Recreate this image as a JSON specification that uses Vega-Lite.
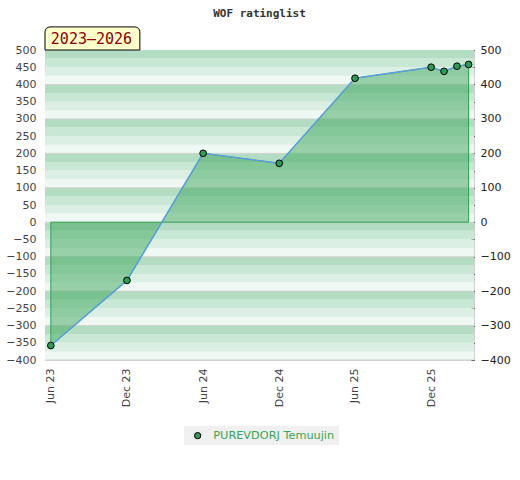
{
  "$schema": "https://vega.github.io/schema/vega-lite/v6.json",
  "autosize": "none",
  "width": 429,
  "height": 310,
  "padding": {"left": 45, "top": 50, "right": 46, "bottom": 120},
  "title": {
    "text": "WOF ratinglist",
    "font": "DejaVu Sans Mono",
    "fontSize": 11,
    "fontWeight": "bold",
    "color": "#333333",
    "anchor": "middle",
    "frame": "group",
    "offset": 7
  },
  "config": {
    "view": {"stroke": "#d0d0d0", "strokeWidth": 1},
    "axis": {"labelFont": "DejaVu Sans", "labelFontSize": 11, "labelColor": "#444444", "title": null}
  },
  "datasets": {
    "bands": [
      {"lo": -400, "hi": -375, "s": "a"}, {"lo": -375, "hi": -350, "s": "b"}, {"lo": -350, "hi": -325, "s": "c"}, {"lo": -325, "hi": -300, "s": "d"},
      {"lo": -300, "hi": -275, "s": "a"}, {"lo": -275, "hi": -250, "s": "b"}, {"lo": -250, "hi": -225, "s": "c"}, {"lo": -225, "hi": -200, "s": "d"},
      {"lo": -200, "hi": -175, "s": "a"}, {"lo": -175, "hi": -150, "s": "b"}, {"lo": -150, "hi": -125, "s": "c"}, {"lo": -125, "hi": -100, "s": "d"},
      {"lo": -100, "hi": -75, "s": "a"}, {"lo": -75, "hi": -50, "s": "b"}, {"lo": -50, "hi": -25, "s": "c"}, {"lo": -25, "hi": 0, "s": "d"},
      {"lo": 0, "hi": 25, "s": "a"}, {"lo": 25, "hi": 50, "s": "b"}, {"lo": 50, "hi": 75, "s": "c"}, {"lo": 75, "hi": 100, "s": "d"},
      {"lo": 100, "hi": 125, "s": "a"}, {"lo": 125, "hi": 150, "s": "b"}, {"lo": 150, "hi": 175, "s": "c"}, {"lo": 175, "hi": 200, "s": "d"},
      {"lo": 200, "hi": 225, "s": "a"}, {"lo": 225, "hi": 250, "s": "b"}, {"lo": 250, "hi": 275, "s": "c"}, {"lo": 275, "hi": 300, "s": "d"},
      {"lo": 300, "hi": 325, "s": "a"}, {"lo": 325, "hi": 350, "s": "b"}, {"lo": 350, "hi": 375, "s": "c"}, {"lo": 375, "hi": 400, "s": "d"},
      {"lo": 400, "hi": 425, "s": "a"}, {"lo": 425, "hi": 450, "s": "b"}, {"lo": 450, "hi": 475, "s": "c"}, {"lo": 475, "hi": 500, "s": "d"}
    ],
    "ratings": [
      {"date": "2023-06-01", "rating": -358, "player": "PUREVDORJ Temuujin"},
      {"date": "2023-12-01", "rating": -169, "player": "PUREVDORJ Temuujin"},
      {"date": "2024-06-01", "rating": 200, "player": "PUREVDORJ Temuujin"},
      {"date": "2024-12-01", "rating": 171, "player": "PUREVDORJ Temuujin"},
      {"date": "2025-06-01", "rating": 418, "player": "PUREVDORJ Temuujin"},
      {"date": "2025-12-01", "rating": 450, "player": "PUREVDORJ Temuujin"},
      {"date": "2026-01-01", "rating": 438, "player": "PUREVDORJ Temuujin"},
      {"date": "2026-02-01", "rating": 453, "player": "PUREVDORJ Temuujin"},
      {"date": "2026-03-01", "rating": 458, "player": "PUREVDORJ Temuujin"}
    ],
    "badge": [
      {"start": "2023-05-18", "end": "2024-01-01", "lo": 500, "hi": 567, "label": "2023–2026", "at": "2023-06-01", "mid": 533}
    ]
  },
  "resolve": {"axis": {"y": "independent"}, "scale": {"color": "independent"}},
  "layer": [
    {
      "data": {"name": "bands"},
      "mark": {"type": "rect"},
      "encoding": {
        "y": {
          "field": "lo", "type": "quantitative",
          "scale": {"domain": [-400, 500], "nice": false, "zero": false},
          "axis": {
            "orient": "left",
            "values": [-400, -350, -300, -250, -200, -150, -100, -50, 0, 50, 100, 150, 200, 250, 300, 350, 400, 450, 500],
            "ticks": false, "domain": false, "grid": false, "labelPadding": 9
          }
        },
        "y2": {"field": "hi"},
        "color": {
          "field": "s", "type": "nominal", "legend": null,
          "scale": {"domain": ["a", "b", "c", "d"], "range": ["#eff8f2", "#dcefe4", "#c9e7d5", "#b3dcc3"]}
        }
      }
    },
    {
      "data": {"name": "bands"},
      "transform": [{"filter": "datum.s == 'a'"}],
      "mark": {"type": "rule", "color": "#d2d2d2", "strokeWidth": 1},
      "encoding": {
        "y": {"field": "lo", "type": "quantitative", "axis": null}
      }
    },
    {
      "data": {"name": "ratings"},
      "mark": {"type": "area", "color": "#3fa85d", "fillOpacity": 0.5, "stroke": "#2fa150", "strokeWidth": 1},
      "encoding": {
        "x": {
          "field": "date", "type": "temporal",
          "scale": {"type": "utc", "domain": [{"year": 2023, "month": 5, "date": 18, "utc": true}, {"year": 2026, "month": 3, "date": 14, "utc": true}]},
          "axis": {
            "values": [
              {"year": 2023, "month": 6, "date": 1, "utc": true},
              {"year": 2023, "month": 12, "date": 1, "utc": true},
              {"year": 2024, "month": 6, "date": 1, "utc": true},
              {"year": 2024, "month": 12, "date": 1, "utc": true},
              {"year": 2025, "month": 6, "date": 1, "utc": true},
              {"year": 2025, "month": 12, "date": 1, "utc": true}
            ],
            "format": "%b %y", "labelAngle": -90, "labelAlign": "right", "labelBaseline": "middle",
            "ticks": false, "domain": false, "grid": false, "labelPadding": 8
          }
        },
        "y": {
          "field": "rating", "type": "quantitative",
          "axis": {
            "orient": "right",
            "values": [-400, -350, -300, -250, -200, -150, -100, -50, 0, 50, 100, 150, 200, 250, 300, 350, 400, 450, 500],
            "labelExpr": "datum.value % 100 == 0 ? datum.label : ''",
            "tickSize": -3, "tickColor": "#000000", "domain": false, "grid": false, "labelPadding": 9,
            "labelColor": "#222222"
          }
        },
        "y2": {"datum": 0}
      }
    },
    {
      "data": {"name": "ratings"},
      "mark": {"type": "line", "color": "#5a9fdb", "strokeWidth": 1.5},
      "encoding": {
        "x": {"field": "date", "type": "temporal"},
        "y": {"field": "rating", "type": "quantitative", "axis": null}
      }
    },
    {
      "data": {"name": "ratings"},
      "mark": {"type": "point", "filled": true, "stroke": "#000000", "strokeWidth": 1, "size": 45, "opacity": 1},
      "encoding": {
        "x": {"field": "date", "type": "temporal"},
        "y": {"field": "rating", "type": "quantitative", "axis": null},
        "color": {
          "field": "player", "type": "nominal",
          "scale": {"range": ["#2e9a52"]},
          "legend": {
            "orient": "none", "legendX": 139, "legendY": 376, "title": null,
            "fillColor": "#f0f0f0", "padding": 4, "symbolOffset": 4, "labelOffset": 10,
            "labelFont": "DejaVu Sans", "labelFontSize": 11.3, "labelColor": "#3aa655",
            "symbolType": "circle", "symbolSize": 40, "symbolStrokeColor": "#000000", "symbolStrokeWidth": 1
          }
        }
      }
    },
    {
      "data": {"name": "badge"},
      "mark": {"type": "rect", "fill": "#ffffcc", "stroke": "#000000", "strokeWidth": 1, "cornerRadiusTopLeft": 5, "cornerRadiusTopRight": 5},
      "encoding": {
        "x": {"field": "start", "type": "temporal"},
        "x2": {"field": "end"},
        "y": {"field": "lo", "type": "quantitative", "axis": null},
        "y2": {"field": "hi"}
      }
    },
    {
      "data": {"name": "badge"},
      "mark": {"type": "text", "font": "DejaVu Sans Mono", "fontSize": 15, "color": "#8b0000", "align": "left", "baseline": "middle"},
      "encoding": {
        "x": {"field": "at", "type": "temporal"},
        "y": {"field": "mid", "type": "quantitative", "axis": null},
        "text": {"field": "label"}
      }
    }
  ]
}
